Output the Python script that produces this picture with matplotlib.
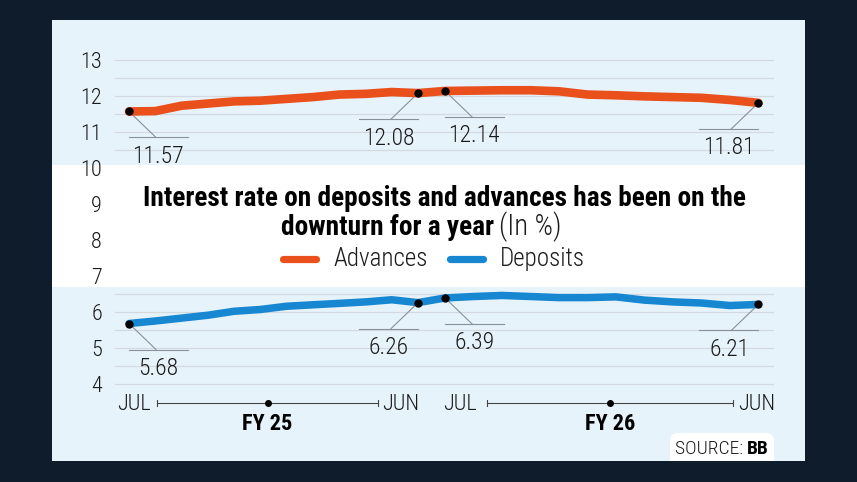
import numpy as np
import matplotlib
matplotlib.use("Agg")
import matplotlib.pyplot as plt
from matplotlib import font_manager
from matplotlib.patches import Rectangle, FancyBboxPatch
from matplotlib.lines import Line2D

# data
advances_fy25 = [11.57, 11.58, 11.73, 11.79, 11.85, 11.87, 11.92, 11.97, 12.04, 12.06, 12.11, 12.08]
advances_fy26 = [12.14, 12.15, 12.16, 12.16, 12.13, 12.04, 12.02, 11.99, 11.97, 11.95, 11.89, 11.81]
deposits_fy25 = [5.68, 5.75, 5.83, 5.91, 6.02, 6.07, 6.16, 6.20, 6.24, 6.28, 6.34, 6.26]
deposits_fy26 = [6.39, 6.43, 6.46, 6.43, 6.40, 6.40, 6.42, 6.33, 6.28, 6.25, 6.18, 6.21]
fiscal_years = ["FY 25", "FY 26"]
y_ticks = list(range(4, 14))
labelled = [0, 11, 12, 23]

title_line1 = "Interest rate on deposits and advances has been on the"
title_line2 = "downturn for a year"
title_unit = "(In %)"

ORANGE = "#e9501c"
BLUE = "#1787d1"
DARK = "#0f1c2b"
PANEL = "#e7f3fb"
INK = "#1b1b1b"
LIGHT = "light"

# fonts: use a condensed family if one is installed
names = {f.name for f in font_manager.fontManager.ttflist}
cond = "DejaVu Sans"
for c in ["Roboto Condensed", "Liberation Sans Narrow", "Open Sans Condensed"]:
    if c in names:
        cond = c
        break
plt.rcParams["font.family"] = [cond, "DejaVu Sans"]
plt.rcParams["font.stretch"] = "condensed"

W, H = 857, 482
fig = plt.figure(figsize=(W / 100, H / 100), dpi=100, facecolor=DARK)


def fx(px):
    return px / W


def fy(py):
    return 1 - py / H


panel = Rectangle((fx(52), fy(461)), fx(805) - fx(52), fy(20) - fy(461),
                  transform=fig.transFigure, facecolor=PANEL, edgecolor="none", zorder=-3)
fig.add_artist(panel)
band = Rectangle((fx(52), fy(287)), fx(805) - fx(52), fy(165) - fy(287),
                 transform=fig.transFigure, facecolor="white", edgecolor="none", zorder=-2)
fig.add_artist(band)

ax = fig.add_axes([fx(115), fy(420), fx(774) - fx(115), fy(24) - fy(420)])
ax.set_facecolor("none")
ax.set_zorder(1)
ax.set_xlim(-0.533, 24.55)
ax.set_ylim(3, 14)
for s in ax.spines.values():
    s.set_visible(False)
ax.set_xticks([])
ax.set_yticks(y_ticks)
ax.set_yticklabels([str(t) for t in y_ticks], fontweight=LIGHT)
ax.tick_params(axis="y", length=0, pad=9.4, labelsize=16, labelcolor=INK)

# gridlines only in the blue parts
for g in list(np.arange(10.5, 13.01, 0.5)) + list(np.arange(4, 6.51, 0.5)):
    ax.axhline(g, color="#d2dae0", lw=0.9, zorder=1)

x25 = np.arange(12.0)
x26 = 12.03 + np.arange(12) * 1.084
x = np.concatenate([x25, x26])
adv = np.array(advances_fy25 + advances_fy26)
dep = np.array(deposits_fy25 + deposits_fy26)

ax.plot(x, adv, color=ORANGE, lw=6.2, solid_capstyle="round", solid_joinstyle="round", zorder=3)
ax.plot(x, dep, color=BLUE, lw=5.4, solid_capstyle="round", solid_joinstyle="round", zorder=3)

# leader lines and value labels
t0 = ax.transData.transform((0, 0))
sx = ax.transData.transform((1, 0))[0] - t0[0]
sy = ax.transData.transform((0, 1))[1] - t0[1]
for series in [adv, dep]:
    for k, i in enumerate(labelled):
        d = 1 if k % 2 == 0 else -1
        xi, vi = x[i], series[i]
        yl = vi - 26 / sy
        ax.plot([xi, xi + d * 27 / sx], [vi, yl], color="#8a9099", lw=0.8, zorder=2)
        ax.plot([xi, xi + d * 59 / sx], [yl, yl], color="#8a9099", lw=0.8, zorder=2)
        ax.text(xi + d * 29 / sx, vi - 45 / sy, f"{vi:.2f}", ha="center", va="center",
                fontsize=17, weight=LIGHT, color=INK, zorder=4)
    ax.plot(x[labelled], series[labelled], "o", color="black", ms=5, zorder=5)

# title
t1 = fig.text(fx(444), fy(206), title_line1, ha="center", va="baseline",
              fontsize=20, weight="bold", color="black")
fig.canvas.draw()
r = fig.canvas.get_renderer()
size = min(24, 20 * 602 / t1.get_window_extent(r).width)
t1.set_fontsize(size)
t2a = fig.text(0, fy(235), title_line2, ha="left", va="baseline",
               fontsize=size, weight="bold", color="black")
t2b = fig.text(0, fy(235), title_unit, ha="left", va="baseline",
               fontsize=size + 1, weight=LIGHT, color=INK)
fig.canvas.draw()
wa = t2a.get_window_extent(r).width
wb = t2b.get_window_extent(r).width
start = 421 - (wa + 5 + wb) / 2
t2a.set_x(fx(start))
t2b.set_x(fx(start + wa + 5))

# legend
for (a, b), col, lab, tx in [((283, 316), ORANGE, "Advances", 333),
                             ((450, 483), BLUE, "Deposits", 500)]:
    fig.add_artist(Line2D([fx(a), fx(b)], [fy(259), fy(259)], transform=fig.transFigure,
                          color=col, lw=5.2, solid_capstyle="round"))
    fig.text(fx(tx), fy(259), lab, ha="left", va="center", fontsize=18, weight=LIGHT, color=INK)

# fiscal year brackets
for fy_lab, jul, jun, a, b in [(fiscal_years[0], 151, 382, 157, 378),
                               (fiscal_years[1], 477, 738, 487, 733)]:
    fig.text(fx(jul), fy(404), "JUL", ha="right", va="center", fontsize=16, weight=LIGHT, color=INK)
    fig.text(fx(jun), fy(404), "JUN", ha="left", va="center", fontsize=16, weight=LIGHT, color=INK)
    fig.add_artist(Line2D([fx(a), fx(b)], [fy(403), fy(403)], transform=fig.transFigure,
                          color="#444444", lw=0.8))
    for e in (a, b):
        fig.add_artist(Line2D([fx(e), fx(e)], [fy(400), fy(406)], transform=fig.transFigure,
                              color="#444444", lw=0.8))
    mid = (a + b) / 2
    fig.add_artist(Line2D([fx(mid)], [fy(403)], transform=fig.transFigure,
                          marker="o", ms=4, color="black"))
    fig.text(fx(mid), fy(424), fy_lab, ha="center", va="center", fontsize=16,
             weight="bold", color="black")

# source box
box = FancyBboxPatch((6.70, (H - 470) / 100), 1.04, 0.37, transform=fig.dpi_scale_trans,
                     boxstyle="round,pad=0,rounding_size=0.08", facecolor="white",
                     edgecolor="none", zorder=-1)
fig.add_artist(box)
box.set_clip_path(panel)
s1 = fig.text(0, fy(449), "SOURCE: ", ha="left", va="center", fontsize=14, weight=LIGHT, color=INK)
s2 = fig.text(0, fy(449), "BB", ha="left", va="center", fontsize=14, weight="bold", color="black")
fig.canvas.draw()
w1 = s1.get_window_extent(r).width
w2 = s2.get_window_extent(r).width
st = 722 - (w1 + w2) / 2
s1.set_x(fx(st))
s2.set_x(fx(st + w1))

fig.savefig("out.png", dpi=100, facecolor=DARK)
